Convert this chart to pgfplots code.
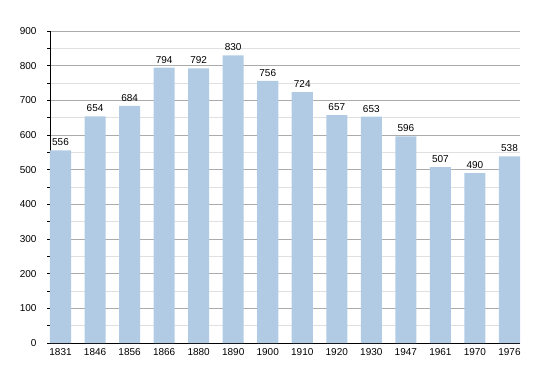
\documentclass[border=0pt]{standalone}
\usepackage{pgfplots}
\pgfplotsset{compat=1.18}
\usepackage{fontspec}
\setmainfont{Liberation Sans}
\definecolor{barblue}{HTML}{B1CBE5}
\definecolor{majgrid}{HTML}{ABABAB}
\definecolor{mingrid}{HTML}{E0E0E0}
\begin{document}
\begin{tikzpicture}
\begin{axis}[
  name=ax,
  scale only axis,
  width=470bp, height=312bp,
  ymin=0, ymax=900,
  xmin=-0.305, xmax=13.305,
  ytick={0,100,...,900},
  minor ytick={50,150,...,850},
  xtick=data,
  xticklabels={1831,1846,1856,1866,1880,1890,1900,1910,1920,1930,1947,1961,1970,1976},
  ymajorgrids, yminorgrids,
  major grid style={majgrid, line width=0.6pt},
  minor grid style={mingrid, line width=0.6pt},
  axis x line*=bottom, axis y line*=left,
  axis line style={black, line width=0.8pt, -},
  x axis line style={-},
  major x tick style={draw=none},
  ytick style={black, line width=0.5pt},
  tick align=outside,
  major tick length=3bp, minor tick length=3bp,
  tick label style={font=\fontsize{10bp}{12bp}\selectfont, black},
  /pgf/number format/assume math mode=true,
  yticklabel style={xshift=-7bp},
  xticklabel style={yshift=1bp},
  ybar, bar width=0.61, bar shift=0pt,
  nodes near coords,
  nodes near coords style={font=\fontsize{10bp}{12bp}\selectfont, black, yshift=1bp},
  clip=false,
]
\addplot[fill=barblue, draw=none] coordinates {
(0,556) (1,654) (2,684) (3,794) (4,792) (5,830) (6,756)
(7,724) (8,657) (9,653) (10,596) (11,507) (12,490) (13,538)};
\end{axis}
\pgfresetboundingbox
\path[use as bounding box] ([xshift=-50bp,yshift=-30bp]ax.south west) rectangle ([xshift=30bp,yshift=31bp]ax.north east);
\end{tikzpicture}
\end{document}
